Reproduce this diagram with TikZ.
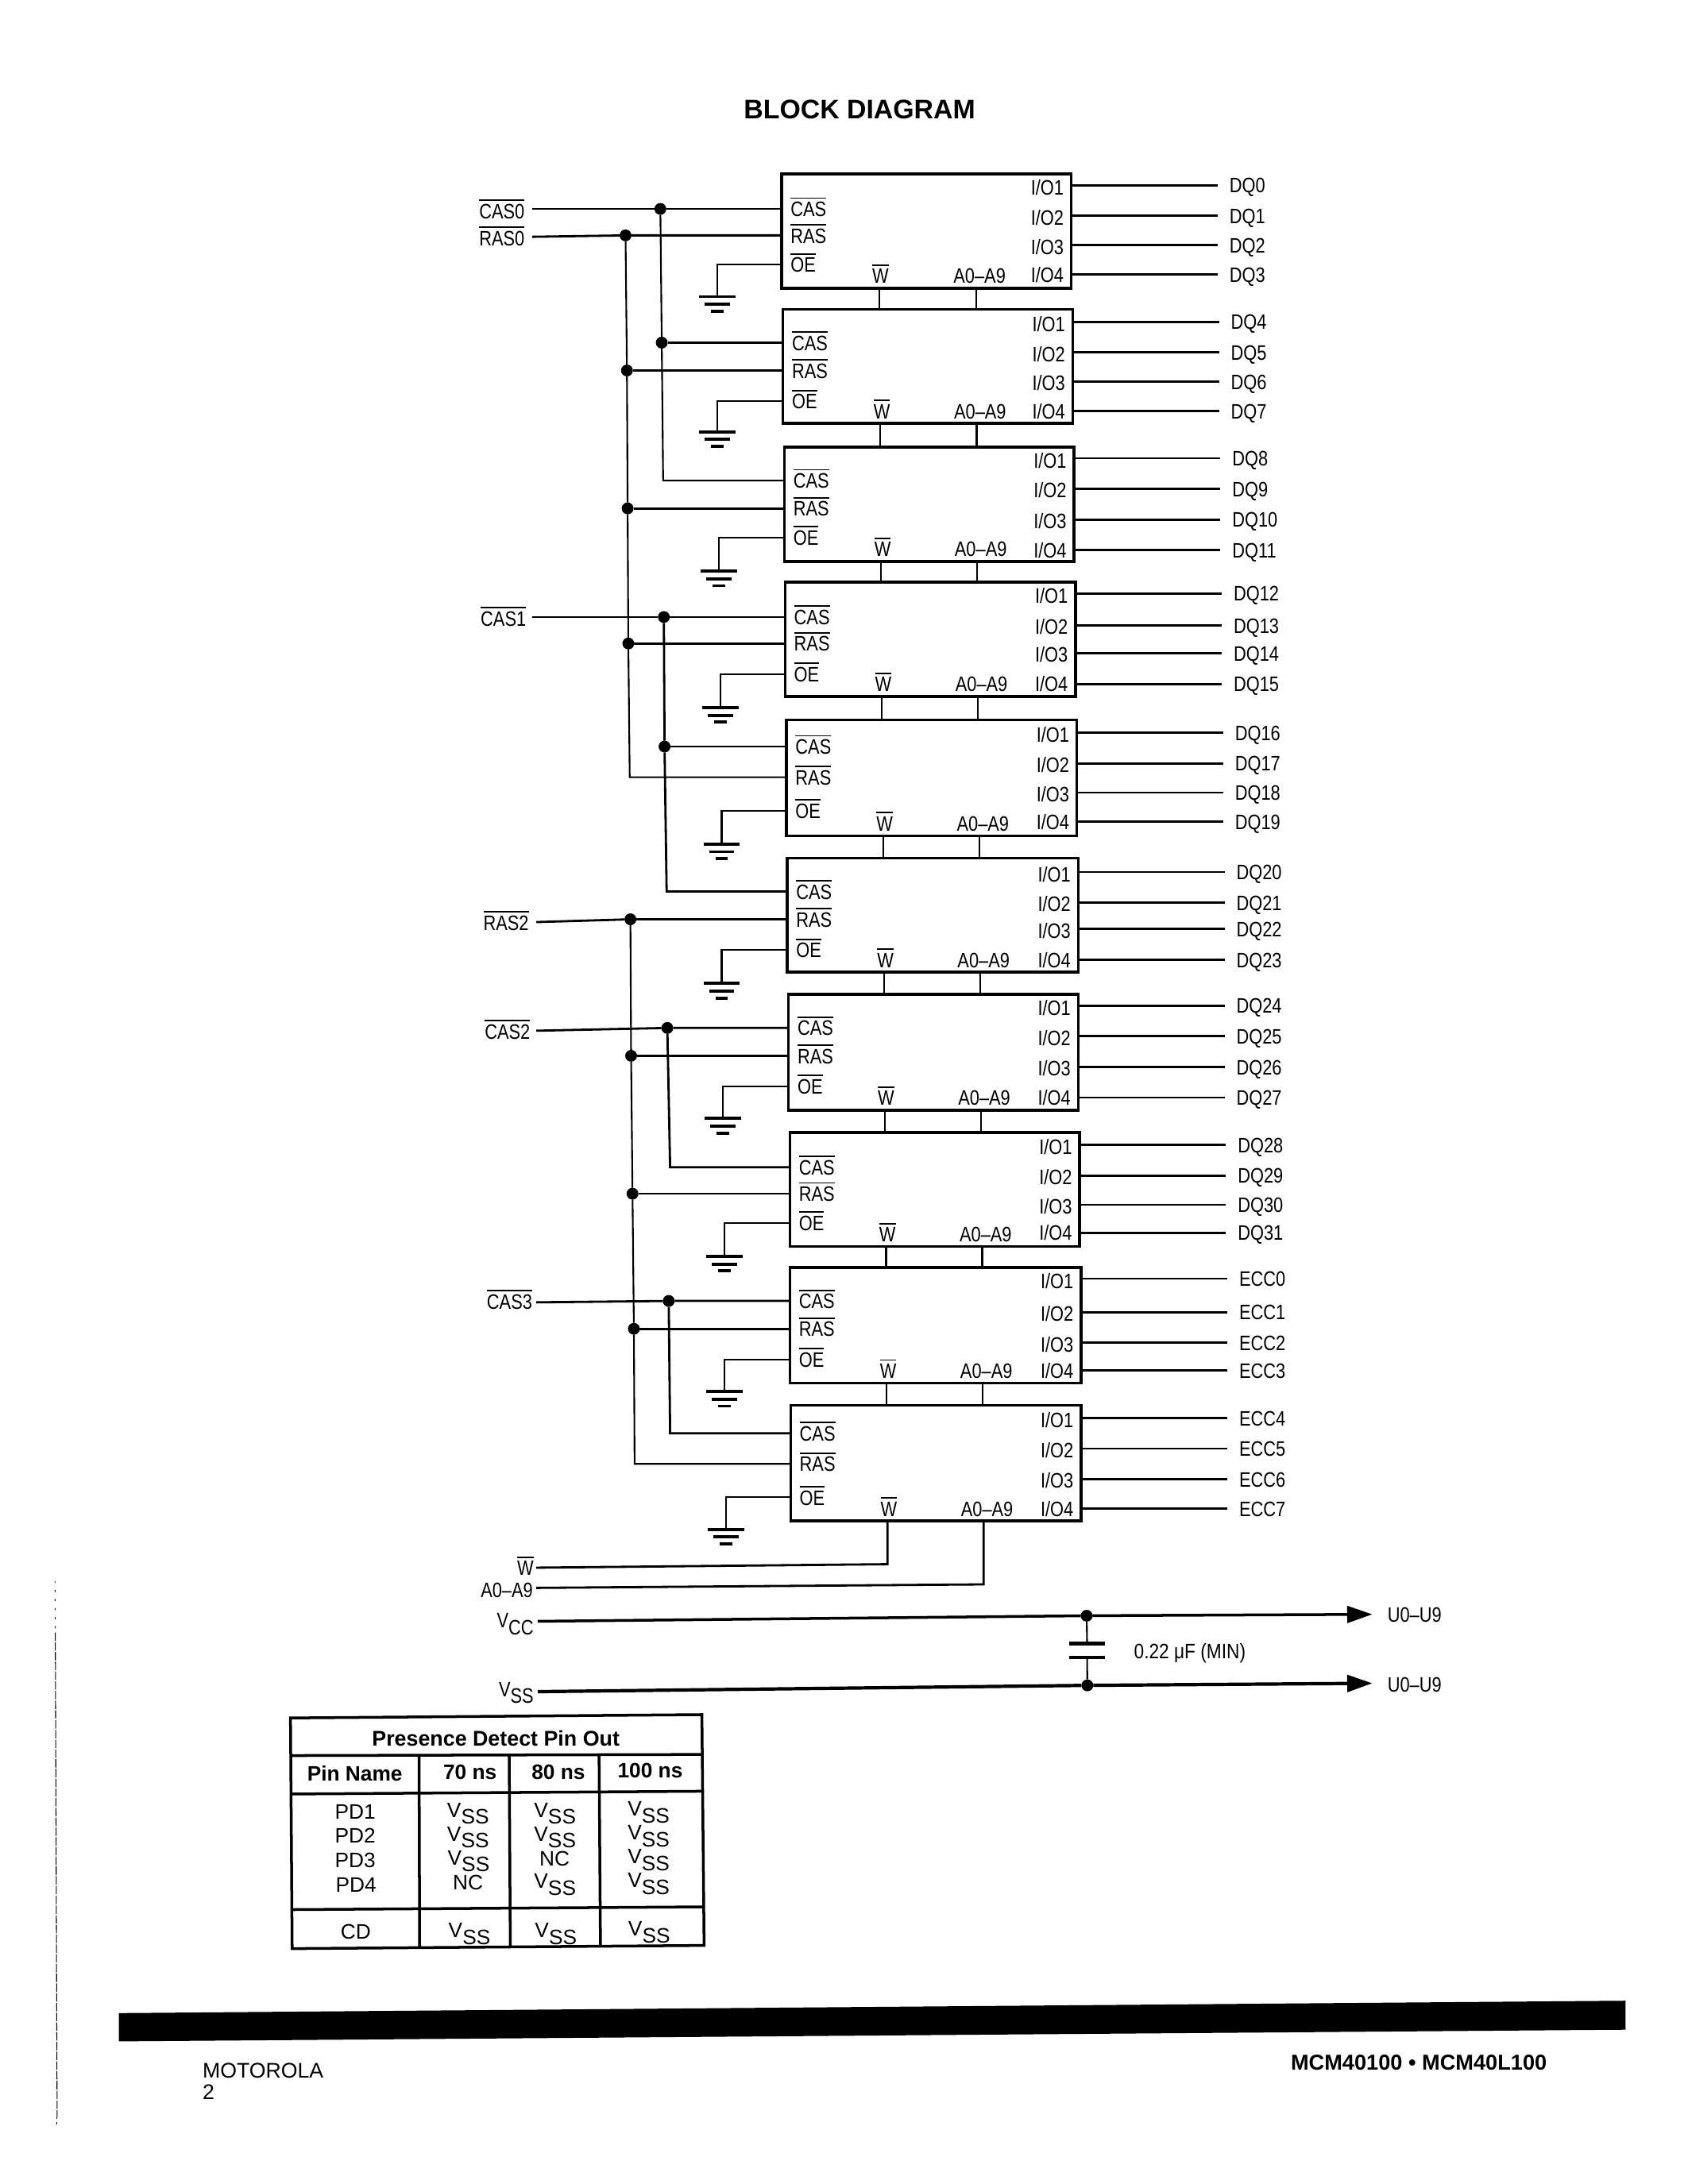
\documentclass[tikz,border=0pt]{standalone}
\usepackage{fontspec}
\setmainfont{Liberation Sans}
\newfontfamily\nar[FakeStretch=0.83]{Liberation Sans}
\usetikzlibrary{arrows.meta}
\newcommand{\ovl}[1]{\leavevmode\vbox{\hrule height 1.1pt\kern 2.2pt\hbox{#1}}}
\newcommand{\vsb}[1]{V\raisebox{-5pt}{#1}}
\tikzset{
  x=1pt,y=-1pt,
  blockbox/.style={draw,line width=2pt,rectangle,inner sep=0pt,outer sep=0pt},
  wire/.style={line width=1.6pt,line join=miter},
  thinw/.style={line width=1.2pt,line join=miter},
  plate/.style={line width=2.2pt},
  dotn/.style={circle,fill=black,inner sep=0pt,outer sep=0pt,minimum size=8.5pt},
  lab/.style={font=\nar\fontsize{15}{17}\selectfont,inner sep=0pt,outer sep=0pt},
  lw/.style={lab,anchor=base west},
  le/.style={lab,anchor=base east},
  lc/.style={lab,anchor=base},
  tabn/.style={font=\fontsize{15}{17}\selectfont,inner sep=0pt,outer sep=0pt,anchor=base},
  tabb/.style={font=\bfseries\fontsize{15}{17}\selectfont,inner sep=0pt,outer sep=0pt,anchor=base},
  tabline/.style={line width=2pt},
  tipp/.style={-{Triangle[length=18pt,width=12pt]}}
}
\begin{document}
\begin{tikzpicture}
\useasboundingbox (0,0) rectangle (1211.5,1568);
\fill[white] (0,0) rectangle (1211.5,1568);

\node[font=\bfseries\fontsize{19.3}{22}\selectfont,inner sep=0pt,anchor=base] (title) at (617,85) {BLOCK DIAGRAM};

% memory blocks
\foreach \nn/\bl/\br/\bt/\bb/\pc/\ps/\po/\gx/\gy/\wx/\ax in {
 1/561/769/125/207/150/169/190/515/213/631/700.6,
 2/562/770/222/304/246/266/288/515/310/632/701,
 3/563/771/321/403/345/365/386/516/410/632.5/701.5,
 4/563.5/772/418/500/443/462/484/517/508/633/702,
 5/564.5/773/517/600/536/558/582/518/606/634/703,
 6/565/774/616/698/640/660/682/518/706/634.5/703.5,
 7/566/774/714/797/738/758/780/519/803/635/704,
 8/567/775/813/895/838/857/878/520/902/636/705,
 9/567/776/910/993/934/954/976/520/999/636.5/705.5,
 10/567.5/776/1009/1092/1029/1051/1075/521/1098/637/706}
{
  \node[blockbox,minimum width={(\br-\bl)*1pt},minimum height={(\bb-\bt)*1pt}] (b\nn) at ({(\bl+\br)/2},{(\bt+\bb)/2}) {};
  \coordinate (cas\nn) at (\bl,\pc);
  \coordinate (ras\nn) at (\bl,\ps);
  \coordinate (oe\nn) at (\bl,\po);
  \coordinate (g\nn) at (\gx,\gy);
  \coordinate (wb\nn) at (\wx,\bb);
  \coordinate (ab\nn) at (\ax,\bb);
  \node[lw] (lcas\nn) at ({\bl+6.5},{\pc+5.5}) {\ovl{CAS}};
  \node[lw] (lras\nn) at ({\bl+6.5},{\ps+5.5}) {\ovl{RAS}};
  \node[lw] (loe\nn) at ({\bl+6.5},{\po+5.5}) {\ovl{OE}};
  \draw[thinw] (oe\nn) -| (g\nn);
  \draw[plate] ([xshift=-13pt]g\nn) -- ([xshift=13pt]g\nn);
  \draw[plate] ([xshift=-9pt,yshift=-5.5pt]g\nn) -- ([xshift=9pt,yshift=-5.5pt]g\nn);
  \draw[plate] ([xshift=-4.5pt,yshift=-10.5pt]g\nn) -- ([xshift=4.5pt,yshift=-10.5pt]g\nn);
  \node[lc] (lw\nn) at ({\wx+1},{\bb-3.5}) {\ovl{W}};
  \node[lc] (la\nn) at ({\ax+2.5},{\bb-3.5}) {A0–A9};
}
% W and A links between blocks
\foreach \nn/\mm in {1/2,2/3,3/4,4/5,5/6,6/7,7/8,8/9,9/10}{
  \draw[thinw] (wb\nn) -- (wb\nn |- b\mm.north);
  \draw[thinw] (ab\nn) -- (ab\nn |- b\mm.north);
}
% outputs
\foreach \nn/\br/\ya/\yb/\yc/\yd/\st/\pre in {
 1/769/133/155/176/197/0/DQ,
 2/770/231/253/274/295/4/DQ,
 3/771/329/351/373/395/8/DQ,
 4/772/426/449/469/491/12/DQ,
 5/773/526/548/569/590/16/DQ,
 6/774/626/648/667/689/20/DQ,
 7/774/722/744/766/788/24/DQ,
 8/775/822/844/865/885/28/DQ,
 9/776/918/942/964/984/0/ECC,
 10/776/1018/1040/1062/1083/4/ECC}
{
  \foreach \kk/\yy/\dl in {1/\ya/1.5,2/\yb/1,3/\yc/1,4/\yd/0}{
    \pgfmathtruncatemacro{\num}{\st+\kk-1}
    \coordinate (io\nn-\kk) at (\br,\yy);
    \coordinate (q\nn-\kk) at ({\br+105},\yy);
    \draw[wire] (io\nn-\kk) -- (q\nn-\kk);
    \node[le] (li\nn-\kk) at ({\br-5.5},{\yy+5.5+\dl}) {I/O\kk};
    \node[lw] (lq\nn-\kk) at ({\br+113.5},{\yy+5.5}) {\pre\num};
  }
}
% CAS0
\coordinate (cin0) at (382,150);
\node[dotn] (dA1) at (474,150) {};
\node[dotn] (dA2) at (475,246) {};
\coordinate (cA3) at (476,345);
\draw[wire] (cin0) -- (dA1) -- (cas1);
\draw[thinw] (dA1) -- (dA2) -- (cA3) -- (cas3);
\draw[wire] (dA2) -- (cas2);
\node[le] (lcas0) at (376.5,157) {\ovl{CAS0}};
% RAS0
\coordinate (rin0) at (382,170);
\node[dotn] (dB1) at (449,169) {};
\node[dotn] (dB2) at (450,266) {};
\node[dotn] (dB3) at (450.5,365) {};
\node[dotn] (dB4) at (451,462) {};
\coordinate (cB5) at (452,558);
\draw[wire] (rin0) -- (dB1) -- (ras1);
\draw[thinw] (dB1) -- (dB2) -- (dB3) -- (dB4) -- (cB5) -- (ras5);
\draw[wire] (dB2) -- (ras2);
\draw[wire] (dB3) -- (ras3);
\draw[wire] (dB4) -- (ras4);
\node[le] (lras0) at (376.5,176.5) {\ovl{RAS0}};
% CAS1
\coordinate (cin1) at (382,443);
\node[dotn] (dC1) at (476.5,443) {};
\node[dotn] (dC2) at (477,536) {};
\coordinate (cC3) at (478.5,640);
\draw[wire] (cin1) -- (dC1) -- (cas4);
\draw[wire] (dC1) -- (dC2) -- (cC3) -- (cas6);
\draw[wire] (dC2) -- (cas5);
\node[le] (lcas1) at (377.6,449.5) {\ovl{CAS1}};
% RAS2
\coordinate (rin2) at (385,662);
\node[dotn] (dD1) at (452.5,660) {};
\node[dotn] (dD2) at (453,758) {};
\node[dotn] (dD3) at (454,857) {};
\node[dotn] (dD4) at (455,954) {};
\coordinate (cD5) at (455.5,1051);
\draw[wire] (rin2) -- (dD1) -- (ras6);
\draw[thinw] (dD1) -- (dD2) -- (dD3) -- (dD4) -- (cD5) -- (ras10);
\draw[wire] (dD2) -- (ras7);
\draw[wire] (dD3) -- (ras8);
\draw[wire] (dD4) -- (ras9);
\node[le] (lras2) at (379.5,668) {\ovl{RAS2}};
% CAS2
\coordinate (cin2) at (385,740);
\node[dotn] (dE1) at (479,738) {};
\coordinate (cE2) at (481,838);
\draw[wire] (cin2) -- (dE1) -- (cas7);
\draw[wire] (dE1) -- (cE2) -- (cas8);
\node[le] (lcas2) at (380.5,746) {\ovl{CAS2}};
% CAS3
\coordinate (cin3) at (385,935);
\node[dotn] (dF1) at (480,934) {};
\coordinate (cF2) at (481,1029);
\draw[wire] (cin3) -- (dF1) -- (cas9);
\draw[wire] (dF1) -- (cF2) -- (cas10);
\node[le] (lcas3) at (382,940) {\ovl{CAS3}};
% W, A0-A9 inputs
\coordinate (win) at (385,1125.5);
\coordinate (wc) at (637,1123);
\draw[wire] (win) -- (wc) -- (wb10);
\node[le] (lwin) at (383,1131) {\ovl{W}};
\coordinate (ain) at (385,1140);
\coordinate (ac) at (706,1137.5);
\draw[wire] (ain) -- (ac) -- (ab10);
\node[le] (lain) at (382.5,1147) {A0–A9};
% supply
\coordinate (vcin) at (386,1164);
\node[dotn] (dV) at (780,1160) {};
\coordinate (vcend) at (985,1159);
\draw[line width=2pt] (vcin) -- (dV);
\draw[line width=2pt,tipp] (dV) -- (vcend);
\coordinate (vsin) at (386,1214.5);
\node[dotn] (dS) at (780.5,1210) {};
\coordinate (vsend) at (985,1208.5);
\draw[line width=2.4pt] (vsin) -- (dS);
\draw[line width=2.4pt,tipp] (dS) -- (vsend);
\coordinate (capT) at (780.3,1180);
\coordinate (capB) at (780.3,1190);
\draw[thinw] (dV) -- (capT);
\draw[thinw] (capB) -- (dS);
\draw[plate,line width=2.6pt] ([xshift=-13pt]capT) -- ([xshift=13pt]capT);
\draw[plate,line width=2.6pt] ([xshift=-13pt]capB) -- ([xshift=13pt]capB);
\node[lw,xscale=1.04] (lcap) at (814,1191) {0.22 μF (MIN)};
\node[lw] (lu0) at (996,1164.5) {U0–U9};
\node[lw] (lu1) at (996,1214.5) {U0–U9};
\node[le] (lvcc) at (383,1168.5) {\vsb{CC}};
\node[le] (lvss) at (383,1218) {\vsb{SS}};

% table
\draw[tabline] (208.5,1233.4) -- (503.8,1231) -- (505.4,1396.7) -- (209.7,1399) -- cycle;
\draw[tabline] (208.7,1260.4) -- (503.9,1259.6);
\draw[tabline] (208.9,1288) -- (504,1286);
\draw[tabline] (209.5,1371) -- (504.8,1369);
\draw[tabline] (300.8,1260.4) -- (301.2,1398.2);
\draw[tabline] (365.5,1260) -- (366.3,1397.5);
\draw[tabline] (430,1260) -- (431,1397);
\node[tabb,font=\bfseries\fontsize{15.3}{18}\selectfont] (th0) at (355.9,1253.5) {Presence Detect Pin Out};
\node[tabb] (th1) at (254.7,1278.5) {Pin Name};
\node[tabb] (th2) at (337.4,1277.5) {70 ns};
\node[tabb] (th3) at (400.8,1277.5) {80 ns};
\node[tabb] (th4) at (466.7,1276.5) {100 ns};
\foreach \nn/\tx/\px/\py in {
  1/PD1/255/1306, 2/PD2/255/1323, 3/PD3/255/1340.5, 4/PD4/255.5/1358.5, 5/CD/255.3/1392,
  6/NC/335.9/1357, 7/NC/398/1339.4}
  {\node[tabn] (tc\nn) at (\px,\py) {\tx};}
\foreach \nn/\px/\py in {
  1/336/1304.6, 2/336/1321.7, 3/336.4/1338.8, 4/337/1391,
  5/398.4/1304.6, 6/398.4/1321.7, 7/398.4/1355.5, 8/399/1391,
  9/465.6/1303.7, 10/465.6/1320.8, 11/465.6/1337.9, 12/465.6/1355, 13/466/1390}
  {\node[tabn] (tv\nn) at (\px,\py) {\vsb{SS}};}

% footer
\fill (85.3,1445.3) -- (1166.8,1436.4) -- (1166.8,1457.2) -- (85.3,1465.6) -- cycle;
\node[anchor=base west,inner sep=0pt,font=\fontsize{15.2}{17}\selectfont] (fm) at (145.3,1492) {MOTOROLA};
\node[anchor=base west,inner sep=0pt,font=\fontsize{15.2}{17}\selectfont] (fp) at (145.3,1507) {2};
\node[anchor=base east,inner sep=0pt,font=\bfseries\fontsize{15.5}{17}\selectfont] (fr) at (1110.5,1486) {MCM40100 • MCM40L100};
% scan mark
\draw[line width=.5pt,dash pattern=on 1.5pt off 5pt] (39.5,1135) -- (39.7,1172);
\draw[line width=.6pt,dash pattern=on 6pt off 1pt] (39.7,1172) -- (41,1520);
\draw[line width=.5pt,dash pattern=on 1.5pt off 2pt] (41,1520) -- (41,1527);
\end{tikzpicture}
\end{document}
